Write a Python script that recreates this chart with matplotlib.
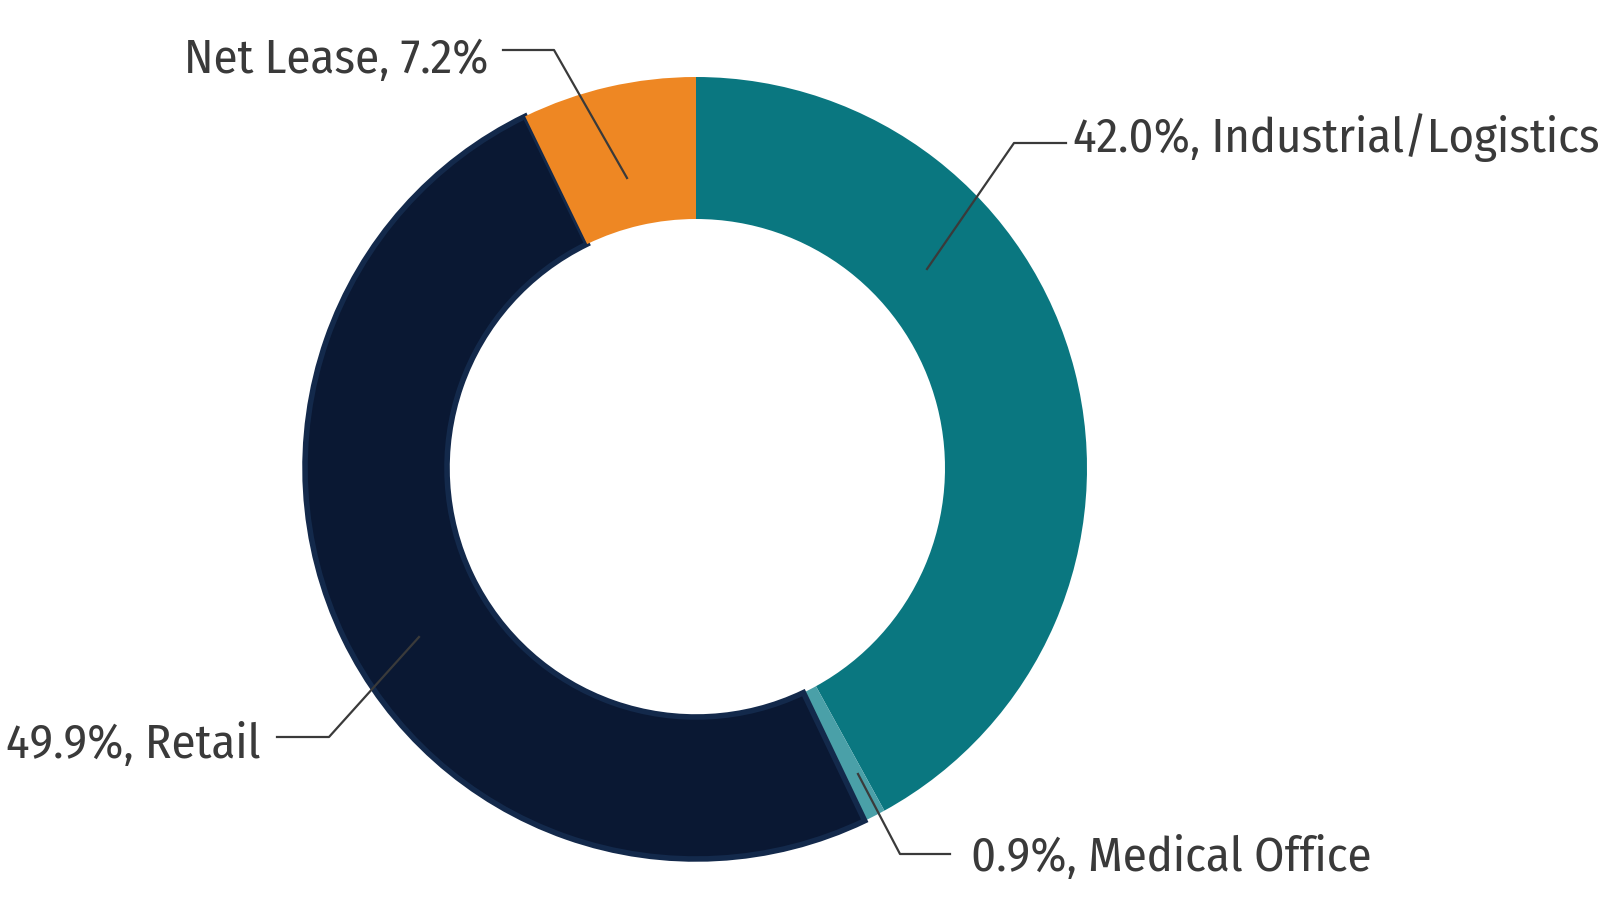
import matplotlib.pyplot as plt
from matplotlib import font_manager

labels = ["Industrial/Logistics", "Medical Office", "Retail", "Net Lease"]
values = [42.0, 0.9, 49.9, 7.2]
colors = ["#0a7780", "#4aa0a8", "#0a1833", "#ee8723"]

W, H = 1610, 906
fig = plt.figure(figsize=(16.1, 9.06), dpi=100)
ax = fig.add_axes([0, 0, 1, 1])

cx, cy, r = 696, 468, 391
# y axis runs downward (pixel coords), so start at -90 and go counterclockwise
wedges, _ = ax.pie(values, colors=colors, startangle=-90, counterclock=True,
                   center=(cx, cy), radius=r, frame=True,
                   wedgeprops=dict(width=r - 249, linewidth=0))
ax.set_xlim(0, W)
ax.set_ylim(H, 0)
ax.set_aspect("equal")
ax.axis("off")
wedges[2].set_edgecolor("#13294b")
wedges[2].set_linewidth(4)

names = {f.name for f in font_manager.fontManager.ttflist}
fam = "Fira Sans Condensed" if "Fira Sans Condensed" in names else "DejaVu Sans"

txt = dict(fontsize=35, color="#3a3a3a", family=fam, va="baseline")
lc = dict(color="#3a3a3a", lw=1.6)

def lab(i):
    return f"{values[i]:.1f}%, {labels[i]}"

# Net Lease
ax.text(488, 73, f"{labels[3]}, {values[3]:.1f}%", ha="right", **txt)
ax.plot([503, 554, 627], [50, 50, 178], **lc)
# Industrial
ax.text(1073, 152, lab(0), ha="left", **txt)
ax.plot([1066, 1014, 927], [143, 143, 269], **lc)
# Medical
ax.text(971, 871, lab(1), ha="left", **txt)
ax.plot([950, 900, 858], [854, 854, 774], **lc)
# Retail
ax.text(260, 758, lab(2), ha="right", **txt)
ax.plot([277, 329, 419], [737, 737, 637], **lc)

fig.savefig("out.png", dpi=100)
